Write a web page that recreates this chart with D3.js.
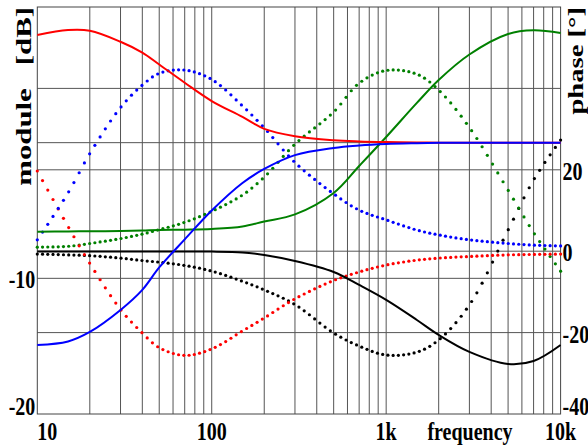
<!DOCTYPE html>
<html>
<head>
<meta charset="utf-8">
<script src="https://cdnjs.cloudflare.com/ajax/libs/d3/7.8.5/d3.min.js"></script>
<style>
  html, body { margin: 0; padding: 0; background: #fff; }
  svg { display: block; }
  text { font-family: "Liberation Serif", "DejaVu Serif", serif; font-weight: bold; fill: #000; }
</style>
</head>
<body>
<svg id="chart" width="588" height="448"></svg>
<script>
// frequencies where the curves were read (Hz)
var freqs = [10, 15, 20, 30, 40, 50, 70, 100, 150, 200, 300, 500, 700, 1000, 1500, 2000, 3000, 5000, 7000, 10000];

// module [dB]
var redDb   = [7.94, 8.30, 8.25, 7.44, 6.64, 5.76, 4.42, 3.07, 1.90, 1.02, 0.48, 0.18, 0.09, 0.04, 0.01, 0, 0, 0, 0, 0];
var blueDb  = [-14.91, -14.65, -13.95, -12.33, -10.85, -9.20, -7.13, -5.00, -2.97, -1.94, -0.92, -0.39, -0.21, -0.10, -0.04, -0.01, 0, 0, 0, 0];
var greenDb = [-6.56, -6.54, -6.53, -6.51, -6.47, -6.43, -6.41, -6.36, -6.18, -5.81, -5.29, -3.71, -1.72, 0.42, 2.93, 4.62, 6.50, 8.01, 8.28, 8.08];
var blackDb = [-8.03, -8.03, -8.03, -8.03, -8.03, -8.03, -8.03, -8.03, -8.09, -8.28, -8.72, -9.53, -10.49, -11.59, -13.07, -14.17, -15.42, -16.31, -16.09, -14.91];

// phase [deg]
var redPh   = [19.7, 6.1, -3.0, -14.3, -20.1, -23.7, -25.6, -24.0, -19.6, -16.4, -11.7, -7.2, -5.1, -3.4, -2.2, -1.7, -1.3, -0.9, -0.8, -0.7];
var bluePh  = [2.8, 14.3, 24.0, 35.3, 40.8, 43.7, 44.5, 42.2, 35.7, 30.3, 21.8, 14.1, 10.1, 7.7, 5.2, 4.0, 2.8, 1.9, 1.5, 1.3];
var greenPh = [1.0, 1.2, 1.9, 3.1, 4.2, 5.3, 7.1, 9.8, 13.8, 18.2, 26.3, 34.2, 41.3, 44.4, 43.5, 39.6, 30.4, 15.0, 4.6, -4.9];
var blackPh = [-0.7, -0.9, -1.1, -1.7, -2.3, -2.7, -3.5, -4.9, -7.4, -9.5, -13.1, -20.1, -23.3, -25.5, -24.8, -21.8, -13.2, 5.2, 17.5, 27.3];

var xTicks = [10, 100, 1000, 10000],
	xTickLabels = ["10", "100", "1k", "10k"],
	xGrid = [20, 30, 40, 50, 60, 70, 80, 90, 100, 200, 300, 400, 500, 600, 700, 800, 900, 1000, 2000, 3000, 4000, 5000, 6000, 7000, 8000, 9000],
	dbTicks = [-10, -20],
	dbGrid = [-10, 0],
	phTicks = [20, 0, -20, -40],
	phGrid = [-20, 0, 20, 40];

var pLeft = 37.3, pRight = 560.6, pTop = 7, pBottom = 414,
	stretch = 1.3; // text in the picture is drawn tall and narrow

var svg = d3.select("#chart");

var x = d3.scaleLog().domain([10, 10000]).range([pLeft, pRight]),
	yDb = d3.scaleLinear().domain([-20, 10]).range([pBottom, pTop]),
	yPh = d3.scaleLinear().domain([-40, 60]).range([pBottom, pTop]);

// grid
var grid = svg.append("g").attr("stroke", "#555").attr("stroke-width", 1);
grid.selectAll(".vg").data(xGrid).enter().append("line")
	.attr("x1", function(d) { return x(d); }).attr("x2", function(d) { return x(d); })
	.attr("y1", pTop).attr("y2", pBottom);
grid.selectAll(".hd").data(dbGrid).enter().append("line")
	.attr("x1", pLeft).attr("x2", pRight)
	.attr("y1", function(d) { return yDb(d); }).attr("y2", function(d) { return yDb(d); });
grid.selectAll(".hp").data(phGrid).enter().append("line")
	.attr("x1", pLeft).attr("x2", pRight)
	.attr("y1", function(d) { return yPh(d); }).attr("y2", function(d) { return yPh(d); });

// frame
svg.append("rect")
	.attr("x", pLeft).attr("y", pTop)
	.attr("width", pRight - pLeft).attr("height", pBottom - pTop)
	.attr("fill", "none").attr("stroke", "#444").attr("stroke-width", 1);

var line = d3.line().curve(d3.curveCatmullRom.alpha(0.5));

function solid(vals, yScale, color) {
	svg.append("path")
		.attr("d", line(freqs.map(function(f, i) { return [x(f), yScale(vals[i])]; })))
		.attr("fill", "none")
		.attr("stroke", color)
		.attr("stroke-width", 2);
}

// dotted curves: one dot every equal step in log frequency
function dotted(vals, yScale, color) {
	var p = svg.append("path")
		.attr("d", line(freqs.map(function(f, i) { return [x(f), yScale(vals[i])]; })))
		.attr("fill", "none").attr("stroke", "none");
	var node = p.node(), L = node.getTotalLength(), samples = [];
	for (var s = 0; s <= L; s += 0.5) samples.push(node.getPointAtLength(s));
	samples.push(node.getPointAtLength(L));
	p.remove();
	var bis = d3.bisector(function(d) { return d.x; }).left;
	var n = 100, pts = [];
	for (var i = 0; i <= n; i++) {
		var tx = pLeft + (pRight - pLeft) * i / n;
		var j = Math.min(Math.max(bis(samples, tx), 1), samples.length - 1);
		var a = samples[j - 1], b = samples[j];
		var t = b.x === a.x ? 0 : (tx - a.x) / (b.x - a.x);
		pts.push([tx, a.y + (b.y - a.y) * t]);
	}
	svg.append("g").attr("fill", color)
		.selectAll("circle").data(pts).enter().append("circle")
		.attr("cx", function(d) { return d[0]; })
		.attr("cy", function(d) { return d[1]; })
		.attr("r", 1.6);
}

dotted(blackPh, yPh, "#000");
dotted(greenPh, yPh, "#008000");
dotted(redPh, yPh, "#ff0000");
dotted(bluePh, yPh, "#0000ff");
solid(blackDb, yDb, "#000");
solid(greenDb, yDb, "#008000");
solid(redDb, yDb, "#ff0000");
solid(blueDb, yDb, "#0000ff");

// labels
function hText(str, tx, ty, anchor, size) {
	svg.append("text")
		.attr("transform", "translate(" + tx + "," + ty + ") scale(1," + stretch + ")")
		.attr("text-anchor", anchor)
		.attr("font-size", size)
		.text(str);
}

dbTicks.forEach(function(v) {
	hText(String(v), pLeft - 2, Math.min(yDb(v) + 10, pBottom + 1), "end", 20);
});
phTicks.forEach(function(v) {
	hText(String(v), pRight + 2, Math.min(yPh(v) + 10, pBottom + 1), "start", 20);
});
xTicks.forEach(function(v, i) {
	hText(xTickLabels[i], i === 0 ? pLeft : x(v), 440, i === 0 ? "start" : "middle", 20);
});
hText("frequency", 470, 440, "middle", 20);

function vText(str, tx, ty, sy) {
	svg.append("text")
		.attr("transform", "translate(" + tx + "," + ty + ") scale(1," + sy + ") rotate(-90)")
		.attr("text-anchor", "end")
		.attr("font-size", 22)
		.attr("xml:space", "preserve")
		.style("white-space", "pre")
		.text(str);
}
vText("module   [dB]", 31, 7, 1.4);
vText("phase [\u00b0]", 583, 7, 1.3);
</script>
</body>
</html>
